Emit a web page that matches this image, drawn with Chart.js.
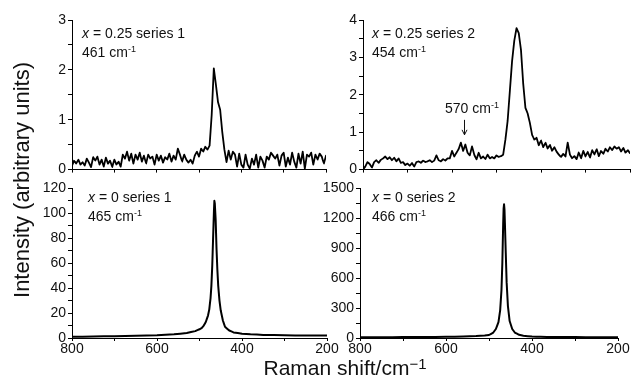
<!DOCTYPE html>
<html>
<head>
<meta charset="utf-8">
<script src="https://cdn.jsdelivr.net/npm/chart.js@4.4.1/dist/chart.umd.min.js"></script>
<style>
  body { margin: 0; background: #fff; }
  #wrap { position: relative; width: 631px; height: 379px; overflow: hidden;
          font-family: "Liberation Sans", Arial, sans-serif; color: #111; background: #fff; }
  canvas { position: absolute; }
  .note { position: absolute; font-size: 14px; line-height: 19px; white-space: nowrap; }
  .sup { font-size: 9px; position: relative; top: -5px; }
  #ytitle { position: absolute; width: 300px; left: -128px; top: 167px; font-size: 22px; line-height: 26px;
            text-align: center; transform: rotate(-90deg); white-space: nowrap; }
  #xtitle { position: absolute; width: 300px; left: 195px; top: 356px; font-size: 21px; line-height: 24px;
            text-align: center; white-space: nowrap; }
  #xtitle .s1 { font-size: 15px; position: relative; top: -6px; }
</style>
</head>
<body>
<div id="wrap">
  <canvas id="c1" width="330" height="180" style="left:0;top:0"></canvas>
  <canvas id="c2" width="301" height="180" style="left:330px;top:0"></canvas>
  <canvas id="c3" width="345" height="180" style="left:0;top:178px"></canvas>
  <canvas id="c4" width="311" height="180" style="left:320px;top:178px"></canvas>

  <div class="note" style="left:82px;top:24px"><i>x</i> = 0.25 series 1<br>461 cm<span class="sup">-1</span></div>
  <div class="note" style="left:372px;top:24px"><i>x</i> = 0.25 series 2<br>454 cm<span class="sup">-1</span></div>
  <div class="note" style="left:445px;top:99px">570 cm<span class="sup">-1</span></div>
  <div class="note" style="left:88px;top:188px"><i>x</i> = 0 series 1<br>465 cm<span class="sup">-1</span></div>
  <div class="note" style="left:372px;top:188px"><i>x</i> = 0 series 2<br>466 cm<span class="sup">-1</span></div>

  <div id="ytitle">Intensity (arbitrary units)</div>
  <div id="xtitle">Raman shift/cm<span class="s1">−1</span></div>
</div>
<script>
// Raman shift grid for the x = 0.25 spectra (cm-1)
const shiftsTop = [800,795,790,785,780,775,770,765,760,755,750,745,740,735,730,725,720,715,710,705,
  700,695,690,685,680,675,670,665,660,655,650,645,640,635,630,625,620,615,610,605,
  600,595,590,585,580,575,570,565,560,555,550,545,540,535,530,525,520,515,510,505,
  500,495,490,485,480,475,470,465,460,455,450,445,440,435,430,425,420,415,410,405,
  400,395,390,385,380,375,370,365,360,355,350,345,340,335,330,325,320,315,310,305,
  300,295,290,285,280,275,270,265,260,255,250,245,240,235,230,225,220,215,210,205,200];

// x = 0.25 series 1
const series1Doped = [0.08,0.18,0.12,0.2,0.1,0.15,0.08,0.22,0.14,0.05,
  0.25,0.18,0.26,0.1,0.2,0.06,0.24,0.12,0.18,0.05,
  0.2,0.1,0.16,0.06,0.3,0.22,0.36,0.18,0.32,0.12,
  0.3,0.2,0.34,0.16,0.28,0.12,0.3,0.22,0.26,0.1,
  0.3,0.18,0.28,0.14,0.25,0.2,0.32,0.16,0.28,0.2,
  0.42,0.3,0.16,0.3,0.2,0.14,0.2,0.12,0.28,0.36,
  0.26,0.42,0.36,0.46,0.4,0.48,1.1,2.03,1.7,1.35,
  1.2,0.75,0.4,0.15,0.38,0.2,0.36,0.3,0.06,0.32,
  0.1,0.04,0.3,0.1,0.02,0.22,0.1,0.3,0.04,0.26,
  0.18,0.04,0.26,0.2,0.34,0.28,0.22,0.3,0.08,0.28,
  0.34,0.06,0.24,0.1,0.34,0.16,0.04,0.32,0.12,0.36,
  0.02,0.3,0.26,0.34,0.1,0.3,0.2,0.32,0.26,0.12,0.28];

// x = 0.25 series 2
const series2Doped = [0,0.08,0.2,0.15,0.05,0.2,0.25,0.18,0.26,0.3,
  0.35,0.28,0.33,0.25,0.32,0.22,0.3,0.18,0.2,0.12,
  0.16,0.1,0.18,0.08,0.2,0.22,0.18,0.24,0.2,0.22,
  0.25,0.2,0.24,0.38,0.25,0.22,0.28,0.24,0.3,0.3,
  0.5,0.35,0.45,0.55,0.72,0.5,0.67,0.45,0.38,0.62,
  0.4,0.27,0.45,0.3,0.35,0.28,0.4,0.3,0.34,0.3,
  0.38,0.34,0.36,0.4,0.8,1.3,2.1,2.9,3.45,3.78,
  3.65,3.2,2.3,1.65,1.5,1.25,0.93,0.8,0.85,0.65,
  0.78,0.6,0.72,0.56,0.66,0.5,0.6,0.48,0.4,0.34,
  0.42,0.35,0.72,0.4,0.3,0.36,0.28,0.46,0.3,0.5,
  0.35,0.48,0.32,0.52,0.4,0.55,0.36,0.5,0.42,0.56,
  0.48,0.6,0.52,0.62,0.56,0.6,0.48,0.58,0.45,0.52,0.44];

// x = 0 series 1
const shiftsPure1 = [800,750,700,650,600,560,530,510,500,495,490,485,480,477,474,472,470,468,466,465,
  464,462,460,458,456,453,450,445,440,430,420,400,380,350,300,250,200];
const series1Pure = [1,1.2,1.5,1.8,2.2,3,4,5.5,7,8,10,13,18,23,32,42,58,80,102,110,
  108,95,72,55,42,30,22,14,9,6,4.5,3.5,3,2.5,2.2,2,2];

// x = 0 series 2
const shiftsPure2 = [800,750,700,650,600,560,530,510,500,490,484,478,474,471,469,468,467,466,465,464,
  463,461,459,456,452,446,440,430,420,400,380,350,300,250,200];
const series2Pure = [8,8,9,10,12,15,19,24,30,55,90,160,280,480,750,950,1150,1300,1340,1290,
  1150,850,560,320,170,90,55,32,22,15,12,10,9,8,8];

const arrowShift = 572;

Chart.defaults.font.family = '"Liberation Sans", Arial, sans-serif';
Chart.defaults.font.size = 14;
Chart.defaults.color = '#111';

// стрелка над пиком 570
const arrowPlugin = {
  id: 'arrow570',
  afterDatasetsDraw(chart) {
    const { ctx, scales: { x, y } } = chart;
    const px = Math.round(x.getPixelForValue(arrowShift)) + 0.5;
    const y1 = y.getPixelForValue(1.33), y2 = y.getPixelForValue(0.93);
    ctx.save();
    ctx.strokeStyle = '#111';
    ctx.lineWidth = 1;
    ctx.beginPath();
    ctx.moveTo(px, y1); ctx.lineTo(px, y2);
    ctx.moveTo(px - 2.5, y2 - 5); ctx.lineTo(px, y2); ctx.lineTo(px + 2.5, y2 - 5);
    ctx.stroke();
    ctx.restore();
  }
};

function panel(id, shifts, values, cfg) {
  new Chart(document.getElementById(id), {
    type: 'scatter',
    data: {
      datasets: [{
        data: shifts.map((s, i) => ({ x: s, y: values[i] })),
        showLine: true,
        borderColor: '#000',
        borderWidth: cfg.lw,
        borderJoinStyle: 'round',
        borderCapStyle: 'round',
        pointRadius: 0,
        // tiny tension: avoids the per-pixel "fast path" that notches steep peaks
        tension: 0.001
      }]
    },
    options: {
      responsive: false,
      animation: false,
      events: [],
      layout: { padding: cfg.pad },
      plugins: { legend: { display: false }, tooltip: { enabled: false } },
      scales: {
        x: {
          type: 'linear', reverse: true, min: 200, max: 800,
          border: { display: true, color: '#000', width: 1 },
          grid: { drawOnChartArea: false, drawTicks: true, tickLength: 3, tickColor: '#000' },
          ticks: {
            stepSize: 100, autoSkip: false, maxRotation: 0, padding: 0,
            callback: v => (cfg.xLabels && v % 200 === 0) ? v : ''
          },
          afterFit: s => { s.height = cfg.xH; }
        },
        y: {
          min: 0, max: cfg.yMax,
          border: { display: true, color: '#000', width: 1 },
          grid: { drawOnChartArea: false, drawTicks: true, tickLength: 4, tickColor: '#000' },
          ticks: {
            stepSize: cfg.yStep / 2, autoSkip: false, padding: 2,
            callback: v => (Math.abs(v / cfg.yStep - Math.round(v / cfg.yStep)) < 1e-6) ? v : ''
          },
          afterFit: s => { s.width = cfg.yW; }
        }
      }
    },
    plugins: cfg.plugins || []
  });
}

panel('c1', shiftsTop, series1Doped, { lw: 1.8, pad: { top: 20, right: 4, left: 0, bottom: 0 }, xH: 10, yW: 72, yMax: 3, yStep: 1, xLabels: false });
panel('c2', shiftsTop, series2Doped, { lw: 1.8, pad: { top: 20, right: 1, left: 0, bottom: 0 }, xH: 10, yW: 33, yMax: 4, yStep: 1, xLabels: false, plugins: [arrowPlugin] });
panel('c3', shiftsPure1, series1Pure, { lw: 2, pad: { top: 10, right: 18, left: 0, bottom: 0 }, xH: 20, yW: 72, yMax: 120, yStep: 20, xLabels: true });
panel('c4', shiftsPure2, series2Pure, { lw: 2, pad: { top: 9, right: 13, left: 0, bottom: 0 }, xH: 20, yW: 40, yMax: 1500, yStep: 300, xLabels: true });
</script>
</body>
</html>
